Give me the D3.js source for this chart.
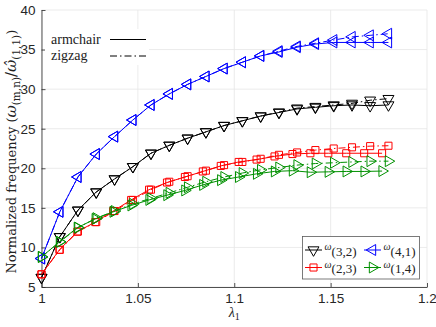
<!DOCTYPE html>
<html>
<head>
<meta charset="utf-8">
<script src="https://cdn.jsdelivr.net/npm/d3@7"></script>
<style>
  body { margin: 0; background: #fff; }
  svg { display: block; }
</style>
</head>
<body>
<div id="chart"></div>
<script>
// lambda_1 values (zigzag, and armchair for modes (3,2), (4,1))
var lambdaA = [1, 1.0095, 1.0189, 1.0284, 1.0379, 1.0474, 1.0568, 1.0663, 1.0758, 1.0853,
               1.0947, 1.1042, 1.1137, 1.1232, 1.1326, 1.1421, 1.1516, 1.1611, 1.1705, 1.18];
// armchair lambda_1 values for modes (2,3), (1,4) sit a little to the left
var lambdaB = [1, 1.0093, 1.0186, 1.0279, 1.0372, 1.0465, 1.0558, 1.0651, 1.0744, 1.0837,
               1.093, 1.1023, 1.1116, 1.1209, 1.1302, 1.1395, 1.1488, 1.1581, 1.1674, 1.1767];

// normalized frequencies
var w32Arm = [6.2, 11.35, 14.7, 17.0, 18.65, 20.2, 21.9, 22.9, 23.8, 24.6, 25.4, 26.0, 26.6, 27.05, 27.5, 27.7, 27.9, 28.0, 27.9, 28.0];
var w32Zig = [6.2, 11.35, 14.7, 17.0, 18.65, 20.2, 21.9, 22.9, 23.8, 24.6, 25.4, 26.0, 26.6, 27.1, 27.6, 27.8, 28.0, 28.2, 28.6, 28.8];
var w41Arm = [8.6, 14.5, 18.9, 21.8, 24.0, 26.1, 28.0, 29.4, 30.6, 31.6, 32.6, 33.4, 34.2, 34.7, 35.3, 35.7, 35.9, 35.9, 35.9, 35.9];
var w41Zig = [8.6, 14.5, 18.9, 21.8, 24.0, 26.1, 28.0, 29.4, 30.6, 31.6, 32.6, 33.4, 34.2, 34.8, 35.4, 35.8, 36.2, 36.6, 36.8, 37.0];
var w23Arm = [6.6, 9.7, 12.0, 13.2, 14.6, 16.0, 17.3, 18.2, 18.9, 19.6, 20.3, 20.8, 21.1, 21.5, 21.8, 21.9, 21.9, 21.9, 21.9, 21.9];
var w23Zig = [6.6, 9.7, 12.0, 13.2, 14.6, 16.0, 17.3, 18.3, 19.0, 19.7, 20.4, 20.8, 21.2, 21.7, 22.0, 22.3, 22.5, 22.65, 22.8, 22.85];
var w14Arm = [8.8, 10.7, 12.5, 13.6, 14.5, 15.3, 16.0, 16.6, 17.2, 17.9, 18.5, 18.9, 19.3, 19.6, 19.7, 19.5, 19.55, 19.6, 19.6, 19.65];
var w14Zig = [8.8, 10.7, 12.5, 13.7, 14.6, 15.5, 16.2, 16.9, 17.6, 18.3, 18.9, 19.4, 19.8, 20.1, 20.4, 20.6, 20.7, 20.8, 20.9, 20.9];

var xTicks = [1, 1.05, 1.1, 1.15, 1.2];
var yTicks = [5, 10, 15, 20, 25, 30, 35, 40];

// series table: mode label, colour, marker, x values, y values, dashed or not
var series = [
  {mode: "(3,2)", color: "#000000", marker: "down",   xs: lambdaA, ys: w32Arm, zig: false},
  {mode: "(3,2)", color: "#000000", marker: "down",   xs: lambdaA, ys: w32Zig, zig: true},
  {mode: "(2,3)", color: "#ff0000", marker: "square", xs: lambdaB, ys: w23Arm, zig: false},
  {mode: "(2,3)", color: "#ff0000", marker: "square", xs: lambdaA, ys: w23Zig, zig: true},
  {mode: "(4,1)", color: "#0000ff", marker: "left",   xs: lambdaA, ys: w41Arm, zig: false},
  {mode: "(4,1)", color: "#0000ff", marker: "left",   xs: lambdaA, ys: w41Zig, zig: true},
  {mode: "(1,4)", color: "#009000", marker: "right",  xs: lambdaB, ys: w14Arm, zig: false},
  {mode: "(1,4)", color: "#009000", marker: "right",  xs: lambdaA, ys: w14Zig, zig: true}
];

var width = 436, height = 327;
var axisColor = "#262626";
var dashDot = "7,3,1.5,3";

var svg = d3.select("#chart").append("svg")
  .attr("width", width)
  .attr("height", height);

var xScale = d3.scaleLinear().domain([1, 1.2]).range([41.5, 427]);
var yScale = d3.scaleLinear().domain([5, 40]).range([287, 10]);

// marker shapes
var triangle = d3.symbol(d3.symbolTriangle, 52)();
var square = d3.symbol(d3.symbolSquare, 50)();
function markerPath(m) { return m === "square" ? square : triangle; }
function markerRot(m) {
  if (m === "down") return 180;
  if (m === "left") return -90;
  if (m === "right") return 90;
  return 0;
}

// grid lines
svg.append("g").selectAll("line.gx")
  .data(xTicks).enter().append("line")
  .attr("x1", function(d) { return xScale(d); })
  .attr("x2", function(d) { return xScale(d); })
  .attr("y1", yScale(5)).attr("y2", yScale(40))
  .attr("stroke", "#e6e6e6").attr("stroke-width", 0.8);
svg.append("g").selectAll("line.gy")
  .data(yTicks).enter().append("line")
  .attr("y1", function(d) { return yScale(d); })
  .attr("y2", function(d) { return yScale(d); })
  .attr("x1", xScale(1)).attr("x2", xScale(1.2))
  .attr("stroke", "#e6e6e6").attr("stroke-width", 0.8);

// axes (ticks point inward)
var xAxis = d3.axisBottom(xScale).tickValues(xTicks).tickFormat(d3.format("~g"))
  .tickSizeInner(-4).tickSizeOuter(0).tickPadding(6);
var yAxis = d3.axisLeft(yScale).tickValues(yTicks)
  .tickSizeInner(-4).tickSizeOuter(0).tickPadding(6);

var gx = svg.append("g").attr("transform", "translate(0," + yScale(5) + ")").call(xAxis);
var gy = svg.append("g").attr("transform", "translate(" + xScale(1) + ",0)").call(yAxis);
[gx, gy].forEach(function(g) {
  g.selectAll("path, line").attr("stroke", axisColor).attr("stroke-width", 0.8);
  g.selectAll("text").attr("fill", axisColor)
    .style("font-family", "'Liberation Sans', Arial, sans-serif").style("font-size", "13.5px");
});

// curves
var line = d3.line()
  .x(function(d) { return xScale(d[0]); })
  .y(function(d) { return yScale(d[1]); });

var plot = svg.append("g");
series.forEach(function(s) {
  var pts = s.xs.map(function(x, i) { return [x, s.ys[i]]; });
  plot.append("path")
    .datum(pts)
    .attr("d", line)
    .attr("fill", "none")
    .attr("stroke", s.color)
    .attr("stroke-width", 1)
    .attr("stroke-dasharray", s.zig ? dashDot : null);
  plot.append("g").selectAll("path")
    .data(pts).enter().append("path")
    .attr("d", markerPath(s.marker))
    .attr("transform", function(d) {
      return "translate(" + xScale(d[0]) + "," + yScale(d[1]) + ") rotate(" + markerRot(s.marker) + ")";
    })
    .attr("fill", "none")
    .attr("stroke", s.color)
    .attr("stroke-width", 1);
});

var serif = "'Liberation Serif', 'DejaVu Serif', serif";

// top-left legend: armchair / zigzag
var lt = svg.append("g");
lt.append("rect").attr("x", 45).attr("y", 29).attr("width", 104).attr("height", 36).attr("fill", "#fff");
[{label: "armchair", dash: null, y: 39.5}, {label: "zigzag", dash: dashDot, y: 56}].forEach(function(e) {
  lt.append("text").attr("x", 51).attr("y", e.y + 4)
    .style("font-family", serif).style("font-size", "14px").attr("fill", "#222")
    .text(e.label);
  lt.append("line").attr("x1", 110).attr("x2", 146).attr("y1", e.y).attr("y2", e.y)
    .attr("stroke", "#000").attr("stroke-width", 1).attr("stroke-dasharray", e.dash);
});

// bottom-right legend: modes
var lb = svg.append("g");
lb.append("rect").attr("x", 302.5).attr("y", 236.5).attr("width", 117).attr("height", 42.5)
  .attr("fill", "#fff").attr("stroke", "#5a5a5a").attr("stroke-width", 0.8);
var legendItems = [
  {s: series[0], x: 305, y: 250},
  {s: series[4], x: 364, y: 250},
  {s: series[2], x: 305, y: 267.5},
  {s: series[6], x: 364, y: 267.5}
];
legendItems.forEach(function(e) {
  lb.append("line").attr("x1", e.x).attr("x2", e.x + 17).attr("y1", e.y).attr("y2", e.y)
    .attr("stroke", e.s.color).attr("stroke-width", 1);
  lb.append("path").attr("d", markerPath(e.s.marker))
    .attr("transform", "translate(" + (e.x + 8.5) + "," + e.y + ") rotate(" + markerRot(e.s.marker) + ")")
    .attr("fill", "none").attr("stroke", e.s.color).attr("stroke-width", 1);
  var t = lb.append("text").attr("x", e.x + 19.5).attr("y", e.y)
    .style("font-family", serif).attr("fill", "#222");
  t.append("tspan").style("font-style", "italic").style("font-size", "10px").text("ω");
  t.append("tspan").attr("dy", 5.5).style("font-size", "13px").text(e.s.mode);
});

// axis labels (wider serif so it spans the axis height as in the original)
var yl = svg.append("text")
  .attr("transform", "translate(16," + yScale(22.1) + ") rotate(-90)")
  .attr("text-anchor", "middle")
  .style("font-family", "'DejaVu Serif', serif").style("font-size", "13px").attr("fill", "#222");
yl.append("tspan").text("Normalized frequency (");
yl.append("tspan").style("font-style", "italic").style("font-size", "15px").text("ω");
yl.append("tspan").attr("dy", 3.5).style("font-size", "10.5px").text("(m,n)");
yl.append("tspan").attr("dy", -3.5).style("font-size", "15px").text("/");
yl.append("tspan").style("font-style", "italic").style("font-size", "15px").text("ω̂");
yl.append("tspan").attr("dy", 3.5).style("font-size", "10.5px").text("(1,1)");
yl.append("tspan").attr("dy", -3.5).text(")");

var xl = svg.append("text")
  .attr("x", xScale(1.1)).attr("y", 317)
  .attr("text-anchor", "middle")
  .style("font-family", serif).style("font-size", "14px").attr("fill", "#222");
xl.append("tspan").style("font-style", "italic").text("λ");
xl.append("tspan").attr("dy", 3).style("font-size", "10px").text("1");
</script>
</body>
</html>
